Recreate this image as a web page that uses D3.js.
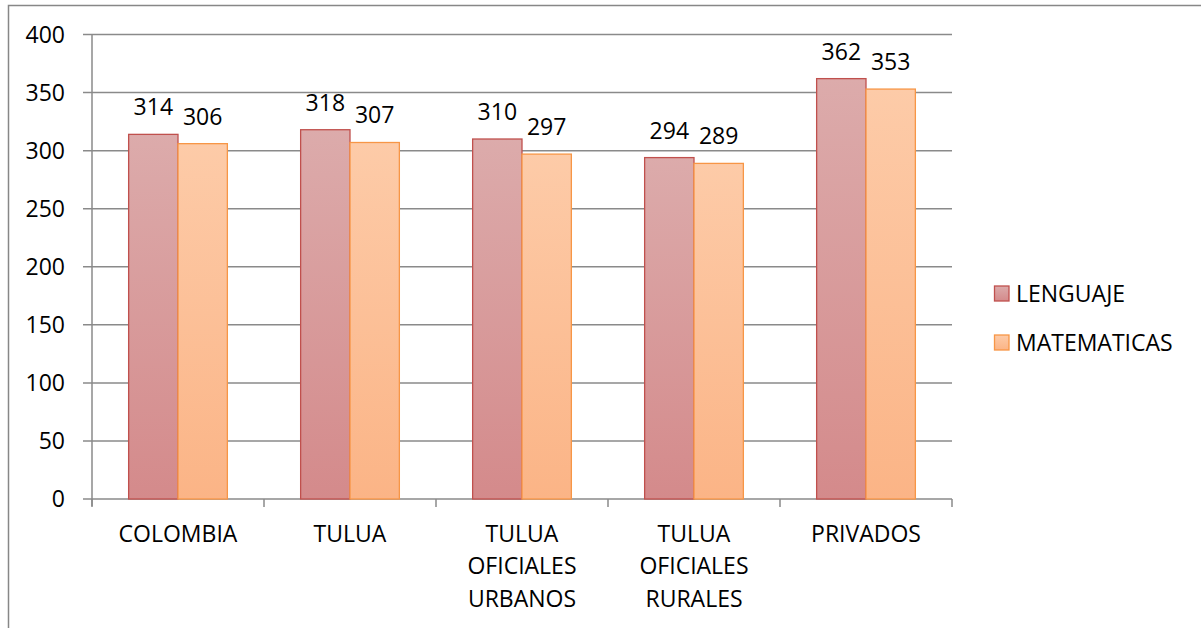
<!DOCTYPE html>
<html>
<head>
<meta charset="utf-8">
<script src="https://cdn.jsdelivr.net/npm/d3@7"></script>
<style>
  body { margin: 0; background: #fff; }
  text { font-family: "Open Sans", sans-serif; font-size: 23px; fill: #000; }
</style>
</head>
<body>
<svg id="canvas" width="1201" height="628"></svg>
<script>
let categories = [['COLOMBIA'], ['TULUA'], ['TULUA', 'OFICIALES', 'URBANOS'], ['TULUA', 'OFICIALES', 'RURALES'], ['PRIVADOS']]
let seriesNames = ['LENGUAJE', 'MATEMATICAS']
let lenguaje = [314, 318, 310, 294, 362]
let matematicas = [306, 307, 297, 289, 353]
let yTicks = [0, 50, 100, 150, 200, 250, 300, 350, 400]

let canvas = d3.select('#canvas')

let plotLeft = 92, plotRight = 952, plotTop = 34.5, plotBottom = 499

// chart border (only top and left show in the picture)
canvas.append('rect')
    .attr('x', 8.5).attr('y', 5.5)
    .attr('width', 1300).attr('height', 700)
    .attr('fill', 'none')
    .attr('stroke', '#878787')
    .attr('stroke-width', 1.5)

let defs = canvas.append('defs')
let grads = [
    { id: 'gLen', top: '#dcabab', bottom: '#d48a8b' },
    { id: 'gMat', top: '#fdcba8', bottom: '#fbb486' }
]
grads.forEach((g) => {
    let lg = defs.append('linearGradient')
        .attr('id', g.id)
        .attr('x1', 0).attr('y1', 0).attr('x2', 0).attr('y2', 1)
    lg.append('stop').attr('offset', '0%').attr('stop-color', g.top)
    lg.append('stop').attr('offset', '100%').attr('stop-color', g.bottom)
})
let fills = ['url(#gLen)', 'url(#gMat)']
let strokes = ['#c0504d', '#f79646']

let x = d3.scaleBand()
    .domain(d3.range(categories.length))
    .range([plotLeft, plotRight])

let y = d3.scaleLinear()
    .domain([0, 400])
    .range([plotBottom, plotTop])

// gridlines
canvas.append('g')
    .selectAll('line')
    .data(yTicks)
    .enter()
    .append('line')
    .attr('x1', plotLeft - 9).attr('x2', plotRight)
    .attr('y1', (d) => y(d)).attr('y2', (d) => y(d))
    .attr('stroke', '#8a8a8a')
    .attr('stroke-width', 1.5)

// y tick labels
canvas.append('g')
    .selectAll('text')
    .data(yTicks)
    .enter()
    .append('text')
    .attr('x', 65)
    .attr('y', (d) => y(d))
    .attr('dy', '0.36em')
    .attr('text-anchor', 'end')
    .text((d) => d)

// y axis line
canvas.append('line')
    .attr('x1', plotLeft).attr('x2', plotLeft)
    .attr('y1', plotTop).attr('y2', plotBottom + 7)
    .attr('stroke', '#8a8a8a')
    .attr('stroke-width', 1.5)

// x ticks
canvas.append('g')
    .selectAll('line')
    .data(d3.range(categories.length + 1))
    .enter()
    .append('line')
    .attr('x1', (d) => plotLeft + d * x.bandwidth())
    .attr('x2', (d) => plotLeft + d * x.bandwidth())
    .attr('y1', plotBottom).attr('y2', plotBottom + 8)
    .attr('stroke', '#8a8a8a')
    .attr('stroke-width', 1.5)

let barW = x.bandwidth() * 0.287

let series = [lenguaje, matematicas]
series.forEach((vals, s) => {
    let g = canvas.append('g')
    g.selectAll('rect')
        .data(vals)
        .enter()
        .append('rect')
        .attr('x', (d, i) => x(i) + x.bandwidth() / 2 - barW + s * barW)
        .attr('y', (d) => y(d))
        .attr('width', barW)
        .attr('height', (d) => y(0) - y(d))
        .attr('fill', fills[s])
        .attr('stroke', strokes[s])
        .attr('stroke-width', 1.3)

    g.selectAll('text')
        .data(vals)
        .enter()
        .append('text')
        .attr('x', (d, i) => x(i) + x.bandwidth() / 2 - barW / 2 + s * barW)
        .attr('y', (d) => y(d) - 19)
        .attr('text-anchor', 'middle')
        .text((d) => d)
})

// category labels
let catG = canvas.append('g')
categories.forEach((lines, i) => {
    let t = catG.append('text')
        .attr('text-anchor', 'middle')
    lines.forEach((ln, j) => {
        t.append('tspan')
            .attr('x', x(i) + x.bandwidth() / 2)
            .attr('y', 541.5 + j * 32.5)
            .text(ln)
    })
})

// legend
let legend = canvas.append('g')
seriesNames.forEach((name, s) => {
    let ly = 286 + s * 49
    legend.append('rect')
        .attr('x', 994.5).attr('y', ly)
        .attr('width', 14.5).attr('height', 15)
        .attr('fill', fills[s])
        .attr('stroke', strokes[s])
        .attr('stroke-width', 1.3)
    legend.append('text')
        .attr('x', 1016)
        .attr('y', ly + 7.5)
        .attr('dy', '0.36em')
        .text(name)
})
</script>
</body>
</html>
